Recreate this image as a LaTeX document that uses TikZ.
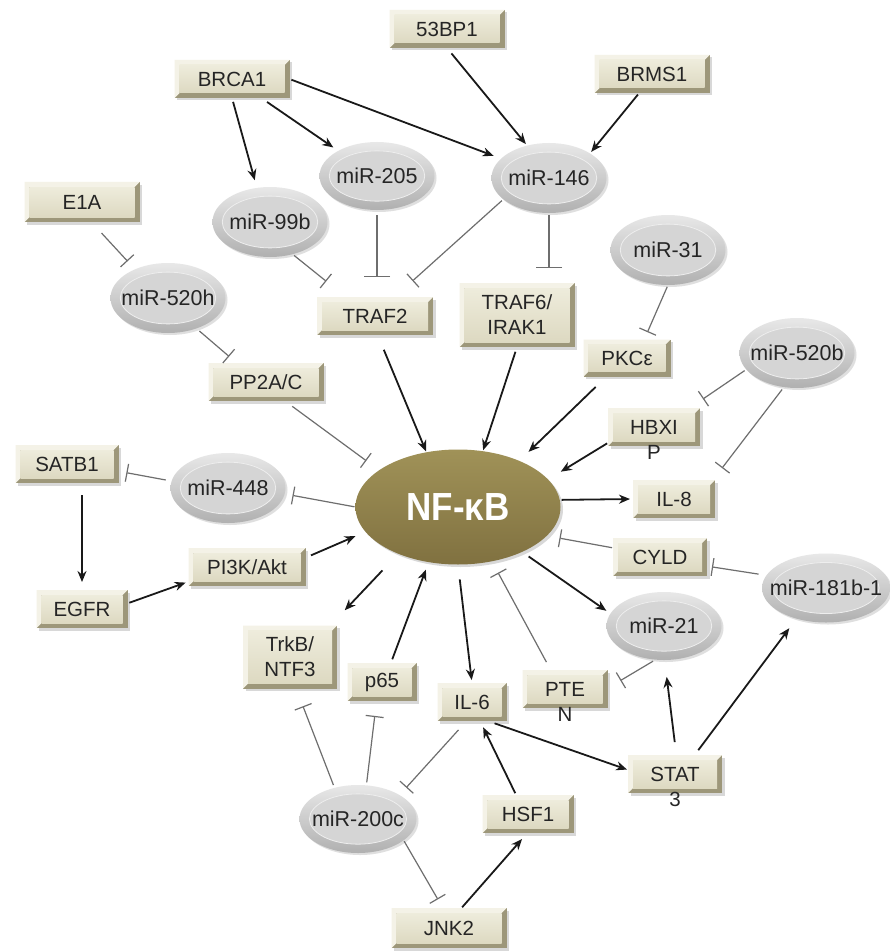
\documentclass[tikz,border=0pt]{standalone}
\usepackage{fontspec}
\setmainfont{Liberation Sans}
\usetikzlibrary{arrows.meta,shapes.geometric,shadows,calc}
\definecolor{boxdark}{HTML}{9D977A}
\definecolor{boxlight}{HTML}{F4F2E7}
\definecolor{facetop}{HTML}{EEECDC}
\definecolor{facebot}{HTML}{DDD9C1}
\definecolor{elltop}{HTML}{E8E8E8}
\definecolor{ellbot}{HTML}{B0B0B0}
\definecolor{ellin}{HTML}{D5D5D5}
\definecolor{ellrim}{HTML}{EEEEEE}
\definecolor{nftop}{HTML}{A09258}
\definecolor{nfbot}{HTML}{807140}
\definecolor{txt}{HTML}{252525}
\definecolor{inhc}{HTML}{6E6E6E}
\newcommand\bxf{\fontsize{20.5}{25}\selectfont}
\newcommand\elf{\fontsize{21.5}{25}\selectfont}
\newcommand\ovf[2]{\vtop{\halign{\hfil##\hfil\cr#1\cr#2\cr}}}
\newcommand\mk[1]{\makebox[0pt]{#1}}
\begin{document}
\begin{tikzpicture}[x=1pt,y=-1pt,
  gbox/.style={rectangle, inner sep=0pt, outer sep=0pt, minimum height=38pt,
    minimum width=115pt, font=\bxf, text=txt, fill=boxdark,
    drop shadow={shadow xshift=2.5pt, shadow yshift=-2.5pt, opacity=0.3},
    path picture={
      \fill[boxlight] (path picture bounding box.north west)
        -- (path picture bounding box.north east)
        -- ([shift={(-5pt,-5pt)}]path picture bounding box.north east)
        -- ([shift={(5pt,-5pt)}]path picture bounding box.north west)
        -- ([shift={(5pt,5pt)}]path picture bounding box.south west)
        -- (path picture bounding box.south west) -- cycle;
      \shade[top color=facetop, bottom color=facebot]
        ([shift={(5pt,-5pt)}]path picture bounding box.north west)
        rectangle ([shift={(-5pt,5pt)}]path picture bounding box.south east);
    }},
  gell/.style={ellipse, inner sep=0pt, outer sep=0pt, minimum width=115pt,
    minimum height=70pt, font=\elf, text=txt, top color=elltop, bottom color=ellbot,
    drop shadow={shadow xshift=2pt, shadow yshift=-2pt, opacity=0.25},
    path picture={
      \path[fill=ellin, draw=ellrim, line width=0.8pt]
        let \p1=($(path picture bounding box.north east)-(path picture bounding box.center)$) in
        (path picture bounding box.center) ellipse [x radius=0.83*\x1, y radius=0.74*\y1];
    }},
  nfk/.style={ellipse, inner sep=0pt, outer sep=0pt, minimum width=205pt,
    minimum height=115pt, top color=nftop, bottom color=nfbot, text=white,
    font=\fontsize{35}{40}\selectfont\bfseries,
    drop shadow={shadow xshift=2.5pt, shadow yshift=-2.5pt, opacity=0.3}},
  act/.style={draw=black!90, line width=1.8pt, -{Stealth[length=11pt,width=9pt]}},
  inh/.style={draw=inhc, line width=1.2pt, -{Bar[width=18pt]}},
  inhw/.style={draw=inhc, line width=1.2pt, -{Bar[width=26pt]}}
]
\fill[white] (0,0) rectangle (890,952);
\useasboundingbox (0,0) rectangle (890,952);

% boxes
\node[gbox] (bp53) at (447,29) {53BP1};
\node[gbox] (brms1) at (652,74) {BRMS1};
\node[gbox] (brca1) at (232,79) {BRCA1};
\node[gbox, minimum height=40pt] (e1a) at (82,202) {E1A};
\node[gbox, minimum width=116pt] (traf2) at (375,316) {TRAF2};
\node[gbox, minimum height=64pt, align=center] (traf6) at (517,315) {TRAF6/\\IRAK1};
\node[gbox, minimum width=87pt, minimum height=37pt] (pkce) at (627,358) {PKCε};
\node[gbox] (pp2a) at (266,382) {PP2A/C};
\node[gbox, minimum width=92pt, text depth=0pt] (hbxip) at (654,427) {\ovf{HBXI}{P}};
\node[gbox, minimum width=82pt] (il8) at (674,499) {IL-8};
\node[gbox, minimum width=94pt] (cyld) at (660,557) {CYLD};
\node[gbox, minimum width=103pt] (satb1) at (67,464) {SATB1};
\node[gbox, minimum width=91pt] (egfr) at (82,609) {EGFR};
\node[gbox, minimum width=117pt] (pi3k) at (247,567) {PI3K/Akt};
\node[gbox, minimum width=94pt, minimum height=63pt, align=center] (trkb) at (290,657) {TrkB/\\NTF3};
\node[gbox, minimum width=69pt] (p65) at (382,682) {p65};
\node[gbox, minimum width=69pt] (il6) at (472,702) {IL-6};
\node[gbox, minimum width=85pt, text depth=0pt] (pten) at (565,689) {\ovf{PTE}{N}};
\node[gbox, minimum width=94pt, text depth=0pt] (stat3) at (675,774) {\ovf{STAT}{3}};
\node[gbox, minimum width=91pt] (hsf1) at (528,814) {HSF1};
\node[gbox, minimum height=40pt] (jnk2) at (449,928) {JNK2};

% ellipses
\node[gell, minimum height=68pt] (mir205) at (377,176) {\mk{miR-205}};
\node[gell] (mir99b) at (270,222) {\mk{miR-99b}};
\node[gell] (mir146) at (549,178) {\mk{miR-146}};
\node[gell] (mir31) at (668,250) {\mk{miR-31}};
\node[gell] (mir520h) at (168,298) {\mk{miR-520h}};
\node[gell] (mir520b) at (797,353) {\mk{miR-520b}};
\node[gell] (mir448) at (228,488) {\mk{miR-448}};
\node[gell, minimum height=68pt] (mir21) at (664,626) {\mk{miR-21}};
\node[gell, minimum width=128pt, minimum height=69pt] (mir181) at (826,588) {\mk{miR-181b-1}};
\node[gell, minimum width=117pt, minimum height=68pt] (mir200c) at (358,819) {\mk{miR-200c}};
\node[nfk] (nfkb) at (458,507) {\mk{\scalebox{1}[1.12]{NF-κB}}};

% connectors
\draw[act, shorten <=2pt, shorten >=8pt] (brca1.east) -- (mir146.158);
\draw[act, shorten <=4pt, shorten >=8pt] (brca1.south) -- (mir99b.111);
\draw[act, shorten <=7pt, shorten >=6pt] (brca1.-33) -- (mir205.147);
\draw[act, shorten <=7pt, shorten >=2pt] (bp53.south) -- (mir146.124);
\draw[act, shorten <=2pt, shorten >=2pt] (brms1.-124) -- (mir146.31);
\draw[inhw, shorten <=5pt, shorten >=20pt] (mir205.south) -- (mir205.south |- traf2.north);
\draw[inh, shorten <=2pt, shorten >=25pt] (mir99b.-55) -- (traf2.147);
\draw[inh, shorten <=2pt, shorten >=24pt] (mir146.205) -- (traf2.44);
\draw[inhw, shorten <=2pt, shorten >=15pt] (mir146.south) -- (mir146.south |- traf6.north);
\draw[inh, shorten <=2pt, shorten >=8pt] (mir31.south) -- (pkce.47);
\draw[inh, shorten <=15pt, shorten >=11pt] (e1a.-65) -- (mir520h.139);
\draw[inh, shorten <=4pt, shorten >=10pt] (mir520h.-47) -- (pp2a.147);
\draw[inh, shorten <=9pt, shorten >=16pt] (pp2a.-45) -- (nfkb.155);
\draw[act, shorten <=16pt, shorten >=1pt] (traf2.-82) -- (nfkb.120);
\draw[act, shorten <=5pt, shorten >=1pt] (traf6.south) -- (nfkb.66);
\draw[act, shorten <=15pt, shorten >=13pt] (pkce.-138) -- (nfkb.37);
\draw[act, shorten <=1pt, shorten >=15pt] (hbxip.-161) -- (nfkb.17);
\draw[inh, shorten <=2pt, shorten >=16pt] (mir520b.-162) -- (hbxip.28);
\draw[inh, shorten <=3pt, shorten >=15pt] (mir520b.-111) -- (il8.26);
\draw[act, shorten <=2pt, shorten >=3pt] (nfkb.4) -- (il8.west);
\draw[inh, shorten <=1pt, shorten >=13pt] (cyld.169) -- (nfkb.-18);
\draw[inh, shorten <=8pt, shorten >=5pt] (mir181.168) -- (cyld.-11);
\draw[act, shorten <=8pt, shorten >=5pt] (nfkb.-35) -- (mir21.167);
\draw[inh, shorten <=3pt, shorten >=15pt] (mir21.-104) -- (pten.1);
\draw[act, shorten <=13pt, shorten >=17pt] (stat3.86) -- (mir21.-89);
\draw[act, shorten <=6pt, shorten >=12pt] (stat3.44) -- (mir181.-134);
\draw[act, shorten <=7pt, shorten >=1pt] (il6.-50) -- (stat3.175);
\draw[act, shorten <=2pt, shorten >=7pt] (hsf1.122) -- (il6.-67);
\draw[act, shorten <=1pt, shorten >=8pt] (jnk2.58) -- (hsf1.-92);
\draw[inh, shorten <=1pt, shorten >=10pt] (mir200c.-25) -- (jnk2.107);
\draw[inh, shorten <=12pt, shorten >=10pt] (il6.-106) -- (mir200c.30);
\draw[inh, shorten <=3pt, shorten >=19pt] (mir200c.127) -- (trkb.-79);
\draw[inh, shorten <=3pt, shorten >=15pt] (mir200c.76) -- (p65.-106);
\draw[act, shorten <=4pt, shorten >=8pt] (p65.65) -- (nfkb.-118);
\draw[act, shorten <=23pt, shorten >=21pt] (nfkb.-142) -- (trkb.38);
\draw[act, shorten <=15pt, shorten >=3pt] (nfkb.south) -- (il6.north);
\draw[inh, shorten <=9pt, shorten >=13pt] (pten.127) -- (nfkb.-58);
\draw[inh, shorten <=1pt, shorten >=8pt] (nfkb.west) -- (mir448.-6);
\draw[inh, shorten <=6pt, shorten >=8pt] (mir448.173) -- (satb1.-8);
\draw[act, shorten <=12pt, shorten >=8pt] (egfr.north |- satb1.south) -- (egfr.north);
\draw[act, shorten <=2pt, shorten >=3pt] (egfr.7) -- (pi3k.-166);
\draw[act, shorten <=6pt, shorten >=11pt] (pi3k.9) -- (nfkb.-165);
\end{tikzpicture}
\end{document}
